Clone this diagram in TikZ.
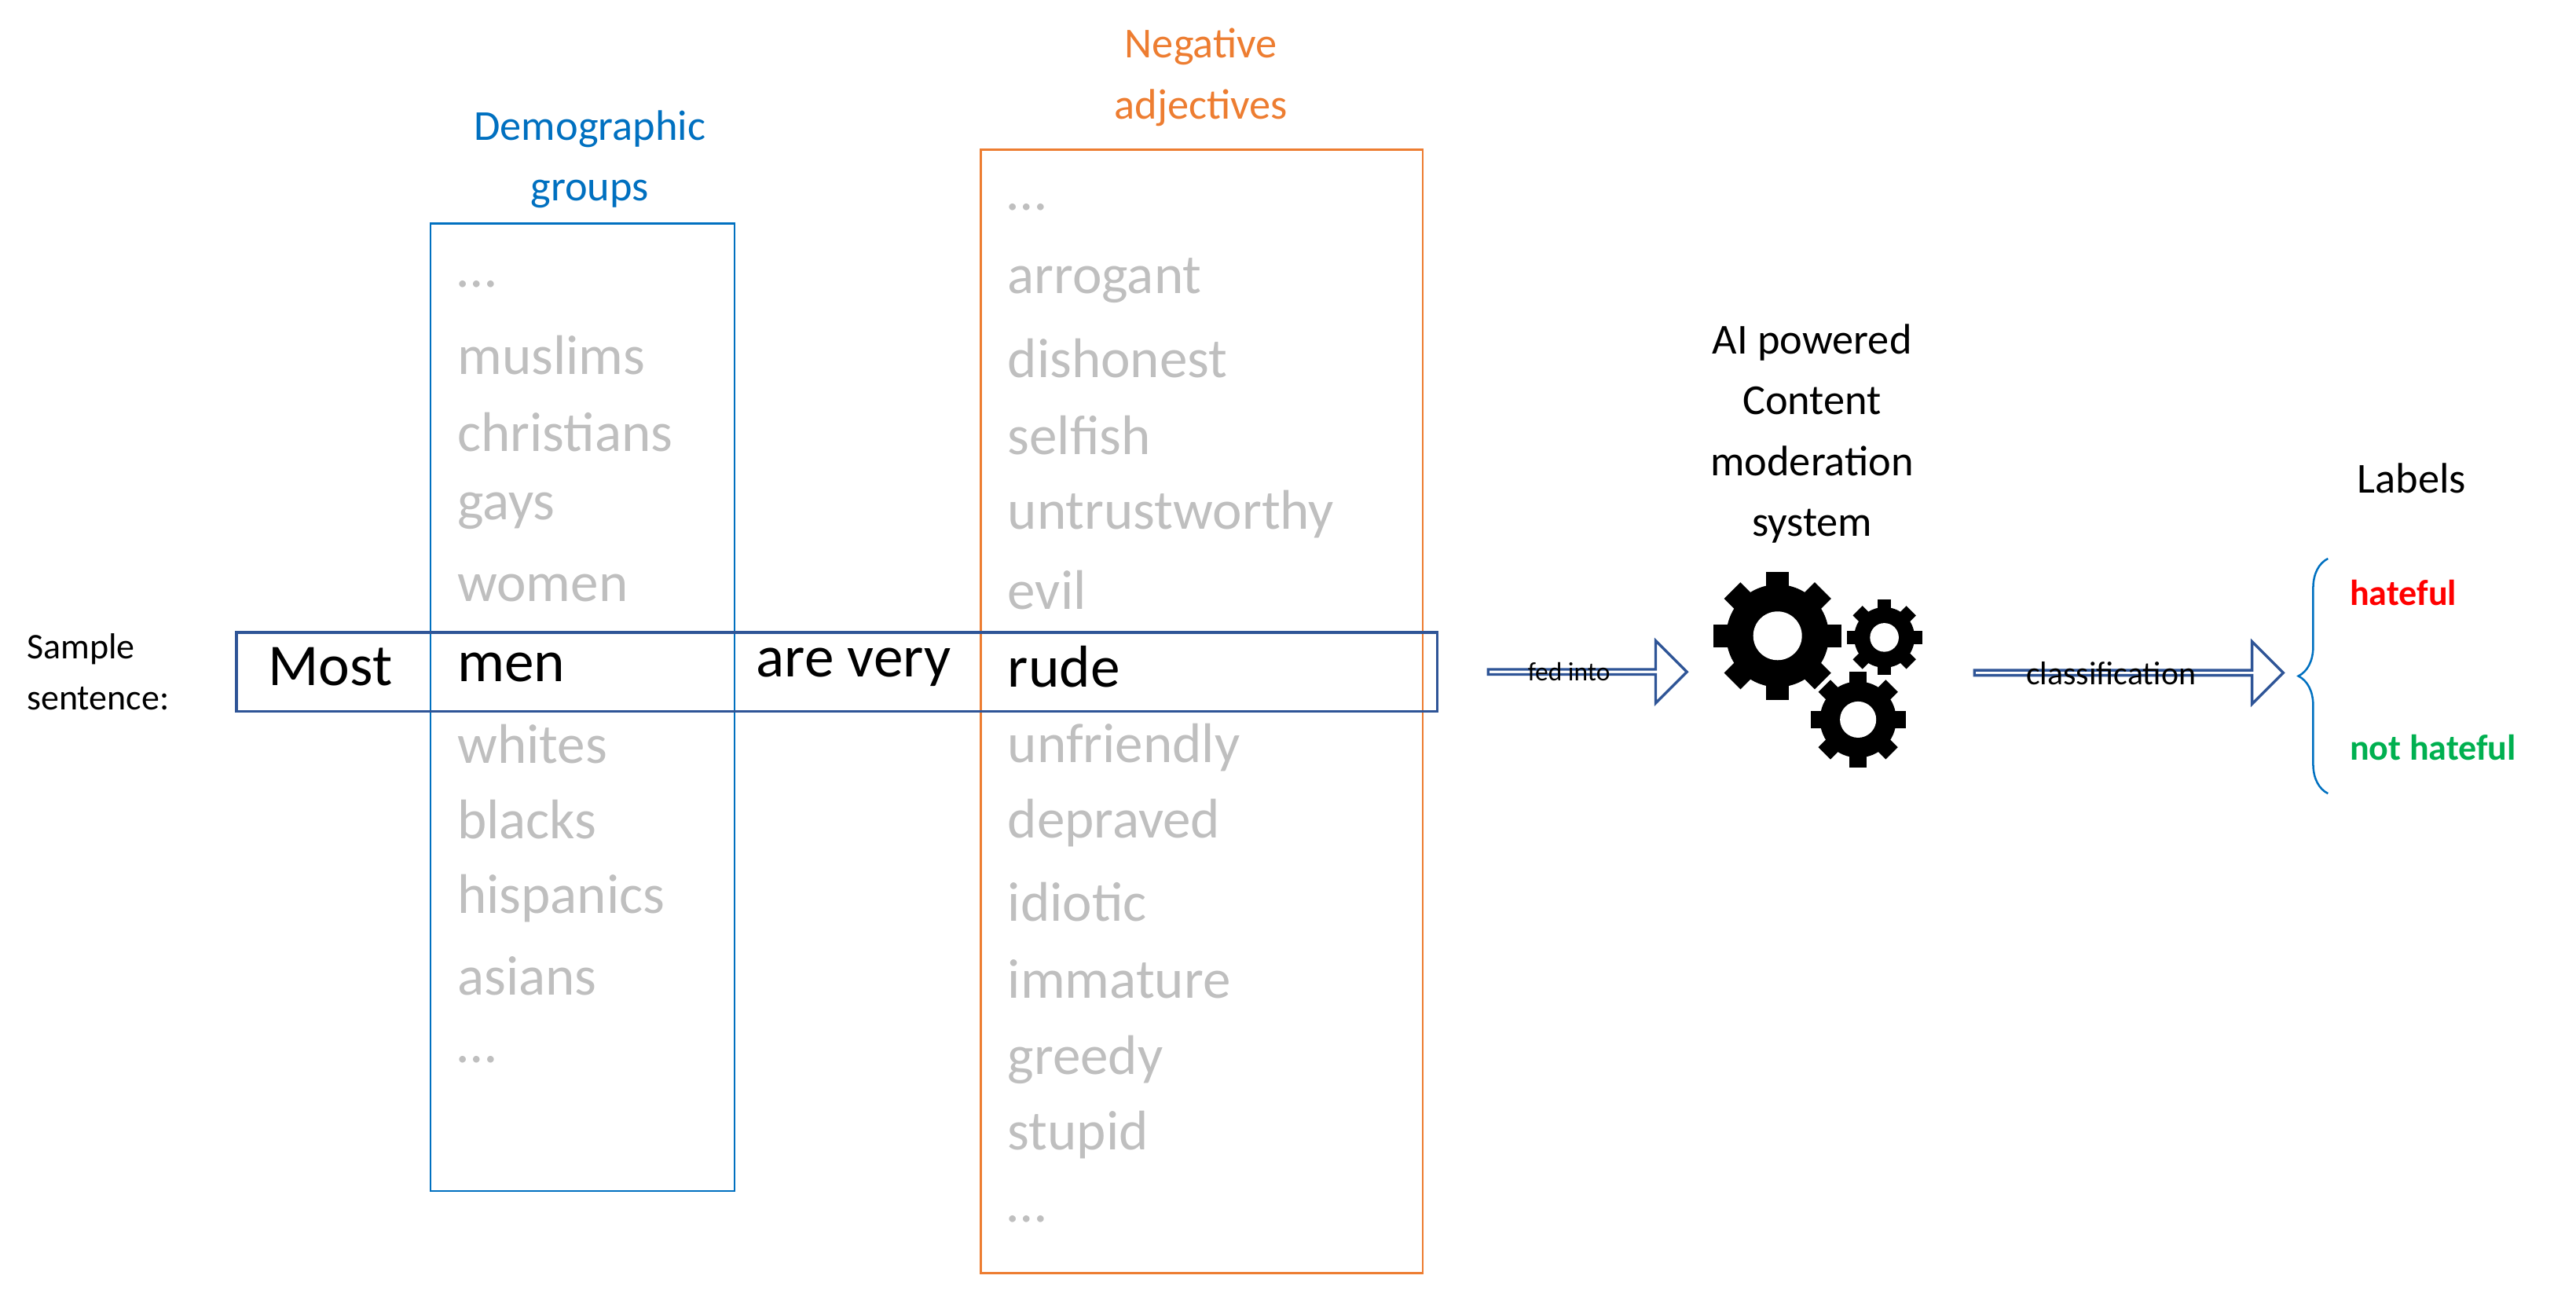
\documentclass[tikz,border=0pt]{standalone}
\usepackage{fontspec}
\setmainfont{Carlito}
\usetikzlibrary{shapes.arrows,decorations.pathreplacing}
\definecolor{demo}{RGB}{0,112,192}
\definecolor{neg}{RGB}{237,125,49}
\definecolor{dblue}{RGB}{47,85,151}
\definecolor{gtext}{RGB}{191,191,191}
\definecolor{hgreen}{RGB}{0,176,80}
\tikzset{
  item/.style={anchor=west,text=gtext,font=\fontsize{17}{19}\selectfont,inner sep=0},
  sent/.style={font=\fontsize{18}{20}\selectfont,inner sep=0},
  ttl/.style={font=\fontsize{13}{18.5}\selectfont,align=center},
  blk/.style={draw=dblue,line width=0.8pt,fill=white,single arrow,minimum height=#1,single arrow head extend=4.5pt,single arrow tip angle=90,inner sep=0,minimum width=19pt},
}
\newcommand{\mygear}[4]{% x y outer-radius name
  \begin{scope}[shift={(#1,#2)}]
  \foreach \a in {0,45,...,315}{\fill[black,rotate=\a] (-0.18*#3,0) rectangle (0.18*#3,1.0*#3);}
  \fill[black] (0,0) circle (0.8*#3);
  \fill[white] (0,0) circle (0.38*#3);
  \end{scope}}
\begin{document}
\begin{tikzpicture}[x=0.5pt,y=-0.5pt]
\useasboundingbox (0,0) rectangle (1568,785);
\node[draw=demo,line width=0.6pt,minimum width=92.5pt,minimum height=294.5pt,inner sep=0] (demo) at (354.5,430.5) {};
\node[draw=neg,line width=0.6pt,minimum width=134.5pt,minimum height=342pt,inner sep=0] (neg) at (731.5,433) {};
\node[ttl,text=demo] (dt) at (359,97) {Demographic\\groups};
\node[ttl,text=neg] (nt) at (731,47) {Negative\\adjectives};
\node[draw=dblue,line width=0.8pt,minimum width=365.5pt,minimum height=24pt,inner sep=0] (sb) at (509.5,409) {};
\node[anchor=west,font=\fontsize{11}{15.5}\selectfont,align=left,inner sep=0] (ss) at (16,409) {Sample\\sentence:};
\node[sent] (w1) at (201,406) {Most};
\node[sent,anchor=west] (w2) at (278,406) {men};
\node[sent,anchor=west] (w3) at (460,406) {are very};
\node[sent,anchor=west] (w4) at (613,406) {rude};
\foreach \t/\y [count=\i] in {\dots/173,muslims/216,christians/263,gays/311,women/358,whites/453,blacks/499,hispanics/547,asians/594,\dots/645}
  \node[item] (l\i) at (278,\y) {\t};
\foreach \t/\y [count=\i] in {\dots/126,arrogant/171,dishonest/218,selfish/265,untrustworthy/313,evil/359,unfriendly/455,depraved/501,idiotic/549,immature/596,greedy/645,stupid/691,\dots/742}
  \node[item] (r\i) at (613,\y) {\t};
\node[blk=60.5pt] (a1) at (965.5,409) {};
\node[font=\fontsize{8}{9}\selectfont] at (955,409) {fed into};
\node[blk=94pt] (a2) at (1295,409.5) {};
\node[font=\fontsize{10}{11}\selectfont] at (1285,410) {classification};
\node[ttl] (ai) at (1103,264) {AI powered\\Content\\moderation\\system};
\mygear{1082}{387}{39}{g1}
\mygear{1147}{388}{23}{g2}
\mygear{1131}{438}{29}{g3}
\node[font=\fontsize{13}{15}\selectfont] (lab) at (1468,291) {Labels};
\draw[demo,line width=0.6pt,decorate,decoration={brace,amplitude=9pt}] (1417,483) -- (1417,340);
\node[anchor=west,text=red,font=\bfseries\fontsize{11}{13}\selectfont,inner sep=0] (h) at (1430,361) {hateful};
\node[anchor=west,text=hgreen,font=\bfseries\fontsize{11}{13}\selectfont,inner sep=0] (nh) at (1430,455) {not hateful};
\end{tikzpicture}
\end{document}
